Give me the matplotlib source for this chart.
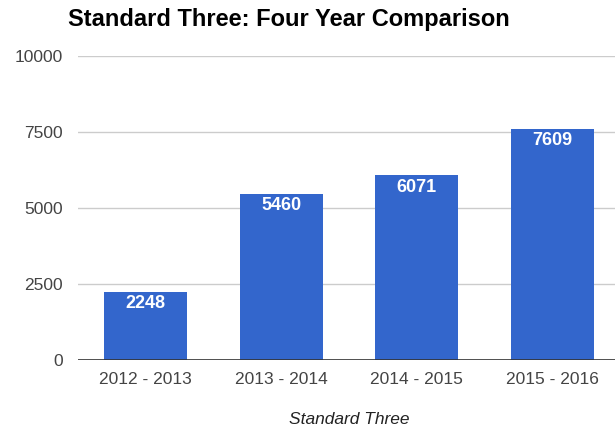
import matplotlib.pyplot as plt

seasons = ['2012 - 2013', '2013 - 2014', '2014 - 2015', '2015 - 2016']
totals = [2248, 5460, 6071, 7609]
y_ticks = [0, 2500, 5000, 7500, 10000]

plt.rcParams['font.family'] = ['Liberation Sans', 'DejaVu Sans']

fig = plt.figure(figsize=(6.15, 4.3), dpi=100)
ax = fig.add_axes([0.1268, 0.1628, 0.8813, 0.7070])

x = range(len(seasons))
bars = ax.bar(x, totals, width=0.61, color='#3366CC', zorder=2)

# value labels inside the top of each bar
for rect, val in zip(bars, totals):
    ax.annotate(str(val), (rect.get_x() + rect.get_width() / 2, val),
                xytext=(0, -2.5), textcoords='offset points',
                ha='center', va='top', color='white',
                fontsize=13, fontweight='bold')

ax.set_xlim(-0.5, len(seasons) - 0.5)
ax.set_ylim(0, 10000)
ax.set_yticks(y_ticks)
ax.set_yticklabels([str(t) for t in y_ticks])
ax.set_xticks(list(x))
ax.set_xticklabels(seasons)
ax.tick_params(axis='both', length=0, labelsize=12.5, colors='#444444')
ax.tick_params(axis='y', pad=11)
ax.tick_params(axis='x', pad=9)

ax.grid(axis='y', color='#cccccc', linewidth=1, zorder=0)
ax.axhline(0, color='#333333', linewidth=1.2, zorder=3)
for spine in ax.spines.values():
    spine.set_visible(False)

ax.set_xlabel('Standard Three', fontsize=12.5, fontstyle='italic',
              color='#222222', labelpad=18)

fig.text(0.111, 0.955, 'Standard Three: Four Year Comparison',
         fontsize=17, fontweight='bold', color='#000000',
         ha='left', va='center')

fig.savefig('out.png', dpi=100)
